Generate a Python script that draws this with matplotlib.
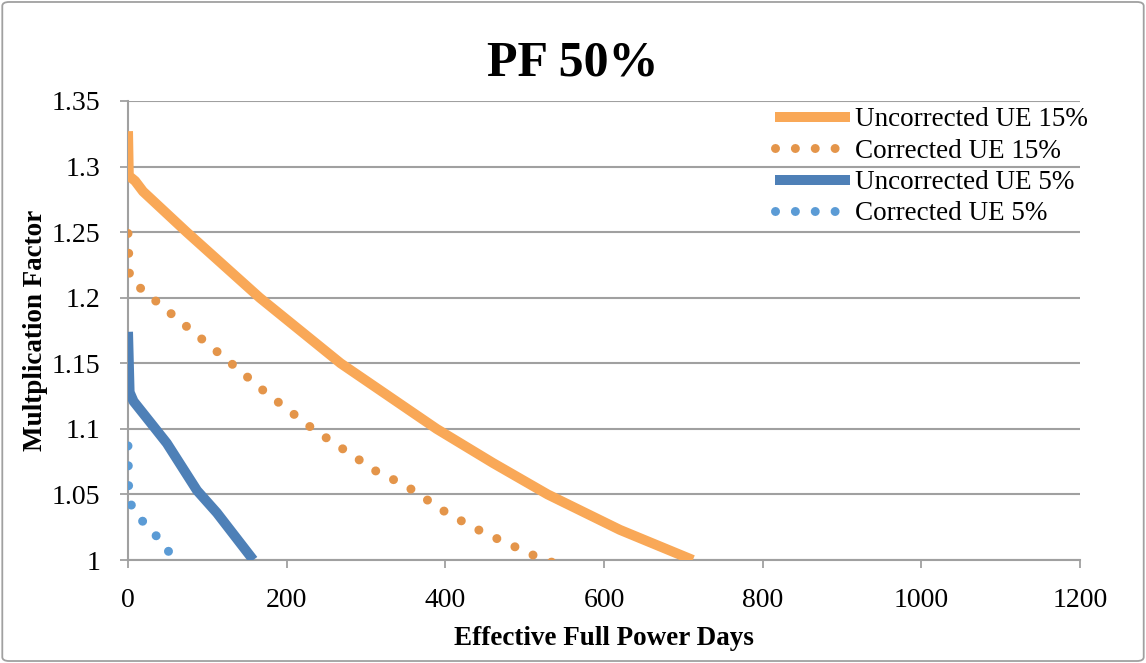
import matplotlib.pyplot as plt
from matplotlib.patches import FancyBboxPatch

plt.rcParams['font.family'] = ['Liberation Serif', 'DejaVu Serif']

# Uncorrected UE 15%
unc15_x = [0, 1, 9, 19, 74, 166, 268, 389, 460, 529, 620, 712]
unc15_y = [1.327, 1.293, 1.289, 1.281, 1.250, 1.200, 1.150, 1.100,
           1.074, 1.050, 1.023, 1.0]

# Corrected UE 15%
cor15_x = [0, 2, 18, 76, 134, 173, 233, 317, 347, 404, 448, 517, 545]
cor15_y = [1.249, 1.215, 1.206, 1.177, 1.148, 1.128, 1.100, 1.066, 1.058, 1.035,
           1.021, 1.002, 0.996]

# Uncorrected UE 5%
unc5_x = [0, 2, 7, 32, 49, 87, 112, 158]
unc5_y = [1.174, 1.128, 1.121, 1.102, 1.089, 1.053, 1.036, 1.0]

# Corrected UE 5%
cor5_x = [0, 1, 6, 20.5, 37.8, 62]
cor5_y = [1.087, 1.047, 1.039, 1.028, 1.017, 0.998]

x_ticks = [0, 200, 400, 600, 800, 1000, 1200]
y_ticks = [1, 1.05, 1.1, 1.15, 1.2, 1.25, 1.3, 1.35]
y_labels = ['1', '1.05', '1.1', '1.15', '1.2', '1.25', '1.3', '1.35']

fig = plt.figure(figsize=(11.46, 6.63), dpi=100)
ax = fig.add_axes([128 / 1146, 1 - 560 / 663, 952 / 1146, 459 / 663])

dots = (0, (0.001, 2.2))
ax.plot(unc15_x, unc15_y, color='#F9A857', lw=7.2, solid_capstyle='butt',
        solid_joinstyle='round', label='Uncorrected UE 15%', zorder=3)
ax.plot(cor15_x, cor15_y, color='#E4954A', lw=6.5, linestyle=dots,
        dash_capstyle='round', label='Corrected UE 15%', zorder=3)
ax.plot(unc5_x, unc5_y, color='#4E80B7', lw=7.2, solid_capstyle='butt',
        solid_joinstyle='round', label='Uncorrected UE 5%', zorder=3)
ax.plot(cor5_x, cor5_y, color='#5B9BD5', lw=6.5, linestyle=dots,
        dash_capstyle='round', label='Corrected UE 5%', zorder=3)

ax.set_xlim(0, 1200)
ax.set_ylim(1, 1.35)
ax.set_xticks(x_ticks)
ax.set_yticks(y_ticks)
ax.set_yticklabels(y_labels)
ax.tick_params(axis='both', labelsize=20, colors='#a0a0a0', labelcolor='black',
               length=6, width=1.3, direction='out')
ax.tick_params(axis='x', pad=14)
ax.tick_params(axis='y', pad=14)
ax.grid(axis='y', color='#a0a0a0', lw=1.5)
ax.set_axisbelow(True)
for side in ['top', 'right']:
    ax.spines[side].set_visible(False)
for side in ['left', 'bottom']:
    ax.spines[side].set_color('#a0a0a0')
    ax.spines[side].set_linewidth(1.5)

ax.set_xlabel('Effective Full Power Days', fontsize=19.5, fontweight='bold')
ax.xaxis.set_label_coords(0.5, -0.143)
ax.set_ylabel('Multplication Factor', fontsize=19.5, fontweight='bold', va='center')
ax.yaxis.set_label_coords(-0.097, 0.5)
fig.text(0.5, 1 - 64 / 663, 'PF 50%', fontsize=36, fontweight='bold',
         ha='center', va='center')

leg = ax.legend(loc='upper left', bbox_to_anchor=(775 / 1146, 1 - 107 / 663),
                bbox_transform=fig.transFigure, frameon=False, fontsize=19.5,
                handlelength=2.78, handletextpad=0.19, labelspacing=0.24,
                borderaxespad=0, borderpad=0)

fig.patches.append(FancyBboxPatch((0.002, 0.003), 0.996, 0.994,
                                  boxstyle='round,pad=0,rounding_size=0.006',
                                  transform=fig.transFigure, fill=False,
                                  edgecolor='#a0a0a0', lw=1.3))

fig.savefig('out.png', dpi=100)
